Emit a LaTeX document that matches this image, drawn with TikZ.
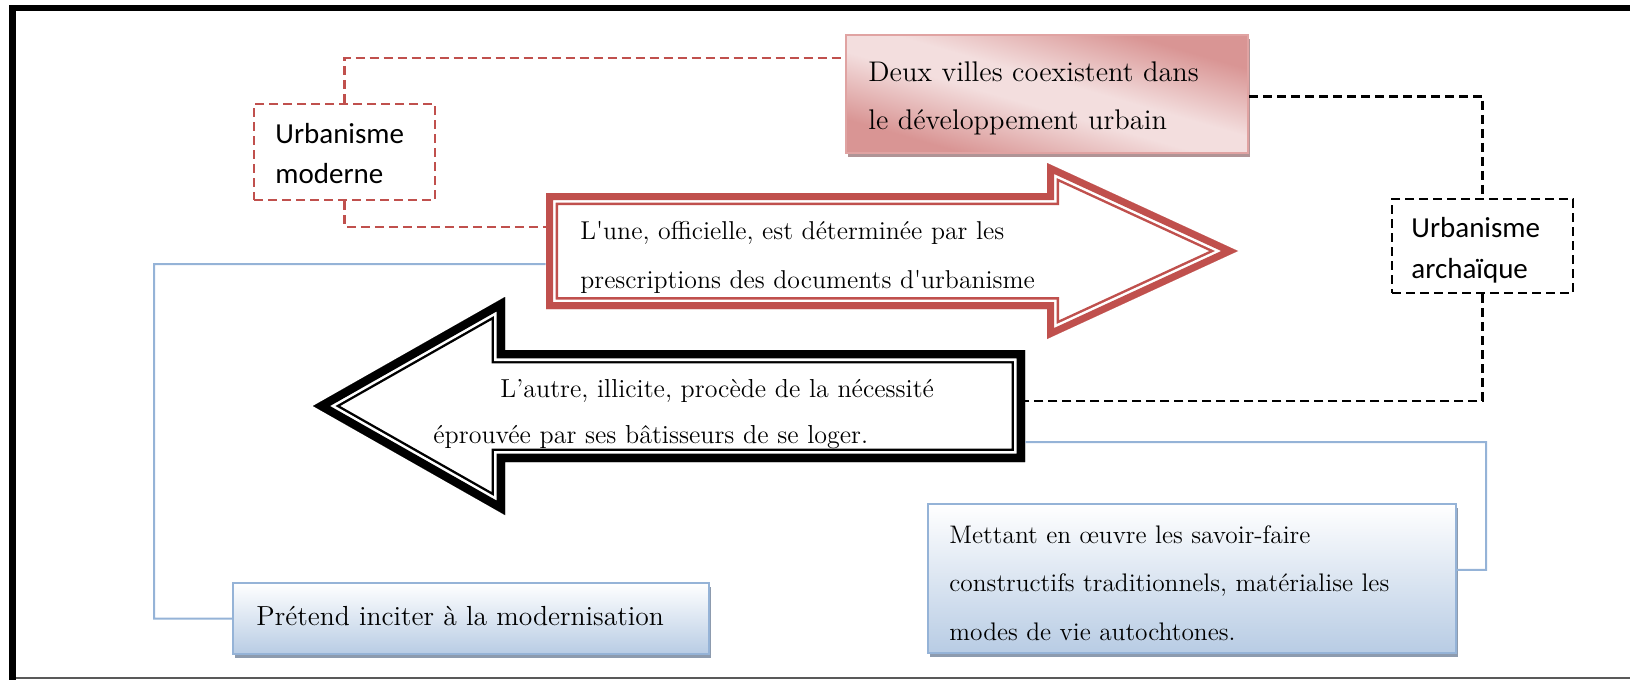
\documentclass[tikz,border=0pt]{standalone}
\usepackage{fontspec}
\newfontfamily\calibri{Carlito}
\usetikzlibrary{calc,shadows}
\definecolor{accred}{HTML}{C0504D}
\definecolor{pinkdark}{HTML}{D99594}
\definecolor{pinklight}{HTML}{F3DEDE}
\definecolor{pinkborder}{HTML}{E0A3A2}
\definecolor{pinkshadow}{HTML}{B09496}
\definecolor{bluelight}{HTML}{B8CCE4}
\definecolor{blueborder}{HTML}{95B3D7}
\definecolor{blueshadow}{HTML}{8D9BAE}
\definecolor{bluecon}{HTML}{95B3D7}
\pgfdeclareverticalshading{pinkshade}{100bp}{color(0bp)=(pinkdark); color(28bp)=(pinkdark); color(46bp)=(pinklight); color(54bp)=(pinklight); color(72bp)=(pinkdark); color(100bp)=(pinkdark)}
\begin{document}
\begin{tikzpicture}[x=0.5pt,y=-0.5pt,
  pinkbox/.style={draw=pinkborder, line width=1pt, shading=pinkshade, shading angle=-16,
    general shadow={fill=pinkshadow, shadow xshift=1pt, shadow yshift=-2pt}, inner sep=0pt},
  bluebox/.style={draw=blueborder, line width=1pt, top color=white, bottom color=bluelight,
    general shadow={fill=blueshadow, shadow xshift=1pt, shadow yshift=-2pt}, inner sep=0pt},
  reddashbox/.style={draw=accred, line width=1.1pt, dash pattern=on 4.5pt off 2.5pt, inner sep=0pt},
  blackdashbox/.style={draw=black, line width=1.1pt, dash pattern=on 4.5pt off 2.5pt, inner sep=0pt},
  reddash/.style={draw=accred, line width=1.1pt, dash pattern=on 4.5pt off 2.5pt},
  blackdash/.style={draw=black, line width=1.1pt, dash pattern=on 4.5pt off 2.5pt},
  blueline/.style={draw=bluecon, line width=1pt},
  txt/.style={anchor=base west, inner sep=0pt, align=left, text width=300pt},
]
\useasboundingbox (0,0) rectangle (1630,680);

% frame
\draw[line width=3.5pt] (12.5,680) -- (12.5,4.5);
\draw[line width=3pt] (9,8) -- (1630,8);
\draw[line width=1pt, black!65] (16,678) -- (1630,678);

% boxes
\node[pinkbox, minimum width=201pt, minimum height=59pt] (deux) at (1047,94) {};
\node[txt, font=\fontsize{14.2}{24}\selectfont] (deuxtxt) at (868,82) {Deux villes coexistent dans\\le développement urbain};

\node[reddashbox, minimum width=90.5pt, minimum height=48pt] (moderne) at (344.5,152) {};
\node[txt, font=\calibri\fontsize{14.5}{20}\selectfont] (modernetxt) at (275,143) {Urbanisme\\moderne};

\node[blackdashbox, minimum width=90.5pt, minimum height=47pt] (arch) at (1482.5,246) {};
\node[txt, font=\calibri\fontsize{14.5}{20.5}\selectfont] (archtxt) at (1411,237) {Urbanisme\\archaïque};

\node[bluebox, minimum width=238pt, minimum height=35.5pt] (pretend) at (471,618.5) {};
\node[txt, font=\fontsize{13.8}{24}\selectfont] (pretendtxt) at (256,625) {Prétend inciter à la modernisation};

\node[bluebox, minimum width=264pt, minimum height=74.5pt] (mettant) at (1192,578.5) {};
\node[txt, font=\fontsize{12.7}{24.3}\selectfont] (mettanttxt) at (949,543) {Mettant en œuvre les savoir-faire\\constructifs traditionnels, matérialise les\\modes de vie autochtones.};

% red arrow (right)
\def\redpath{(546,193) -- (1047,193) -- (1047,163) -- (1238,251) -- (1047,339) -- (1047,309) -- (546,309) -- cycle}
\begin{scope}
  \fill[white] \redpath;
  \clip \redpath;
  \draw[accred, line width=12pt, line join=miter] \redpath;
  \draw[white, line width=9.5pt, line join=miter] \redpath;
  \draw[accred, line width=7pt, line join=miter] \redpath;
\end{scope}
\node[inner sep=0pt, minimum width=250.5pt, minimum height=58pt] (une) at (796.5,251) {};
\node[txt, font=\fontsize{12.9}{24.5}\selectfont] (unetxt) at (580,239) {L\textquotesingle une, officielle, est déterminée par les\\prescriptions des documents d\textquotesingle urbanisme};

% black arrow (left)
\def\blackpath{(313,406) -- (505,297) -- (505,350) -- (1025,350) -- (1025,462) -- (505,462) -- (505,515) -- cycle}
\begin{scope}
  \fill[white] \blackpath;
  \clip \blackpath;
  \draw[black, line width=13.4pt, line join=miter] \blackpath;
  \draw[white, line width=11pt, line join=miter] \blackpath;
  \draw[black, line width=8.4pt, line join=miter] \blackpath;
\end{scope}
\node[inner sep=0pt, minimum width=260pt, minimum height=56pt] (autre) at (765,406) {};
\node[txt, font=\fontsize{13}{23}\selectfont] (autretxt) at (433,397) {\hspace*{33.5pt}L’autre, illicite, procède de la nécessité\\éprouvée par ses bâtisseurs de se loger.};

% connectors
\draw[reddash] (moderne.north) |- ($(deux.north west)!0.2!(deux.south west)$);
\draw[reddash] (moderne.south) |- ($(une.north west)!0.293!(une.south west)$);
\coordinate (bl) at (154,264);
\draw[blueline] ($(une.north west)!0.612!(une.south west)$) -- (bl) |- (pretend.west);
\draw[blackdash] ($(deux.north east)!0.52!(deux.south east)$) -| (arch.north);
\draw[blackdash] (arch.south) |- ($(autre.north east)!0.455!(autre.south east)$);
\coordinate (br) at (1486,442);
\draw[blueline] ($(autre.north east)!0.82!(autre.south east)$) -- (br) |- ($(mettant.north east)!0.443!(mettant.south east)$);
\end{tikzpicture}
\end{document}
